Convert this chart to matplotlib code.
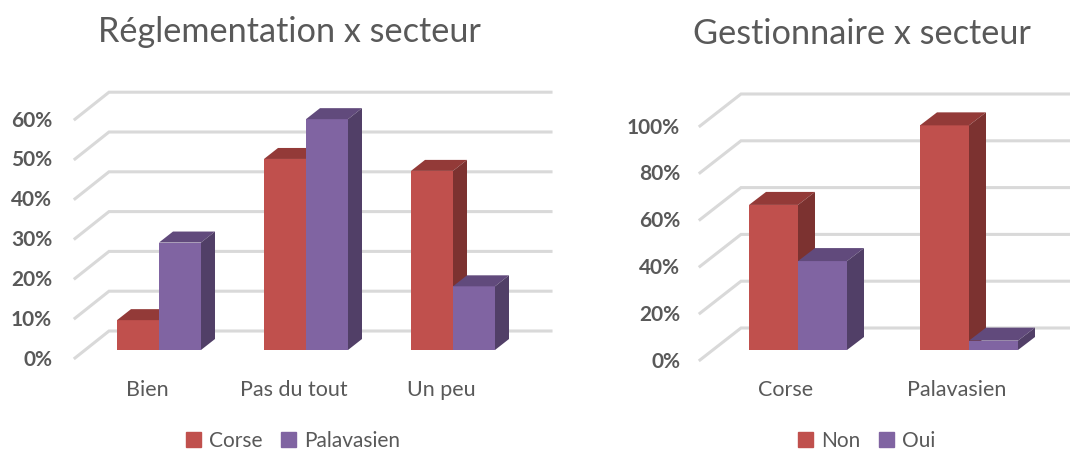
#!/usr/bin/env python3
"""Two pseudo-3D clustered column charts: reglementation and gestionnaire by sector."""

import matplotlib
matplotlib.use("Agg")
import matplotlib.pyplot as plt
from matplotlib.patches import Polygon, Patch

plt.rcParams["font.family"] = ["Lato", "DejaVu Sans"]

reg_title = "Réglementation x secteur"
reg_categories = ["Bien", "Pas du tout", "Un peu"]
reg_series = ["Corse", "Palavasien"]
reg_corse = [7.5, 48, 45]
reg_palavasien = [27, 58, 16]
reg_ticks = [0, 10, 20, 30, 40, 50, 60]

ges_title = "Gestionnaire x secteur"
ges_categories = ["Corse", "Palavasien"]
ges_series = ["Non", "Oui"]
ges_non = [62, 96]
ges_oui = [38, 4]
ges_ticks = [0, 20, 40, 60, 80, 100]

W, H = 1070, 455
RED = ("#C0504D", "#933A38", "#7C3230")
PURPLE = ("#8064A2", "#614A7C", "#513F67")
TEXT = "#595959"
GRID = "#D9D9D9"


def draw_column(ax, x, width, value, colors, dx, dy):
    ax.bar(x, value, width, align="edge", color=colors[0], zorder=3)
    x0, x1 = x, x + width
    ax.add_patch(Polygon([(x0, value), (x1, value), (x1 + dx, value + dy), (x0 + dx, value + dy)],
                         color=colors[1], lw=0, zorder=3))
    ax.add_patch(Polygon([(x1, 0), (x1 + dx, dy), (x1 + dx, value + dy), (x1, value)],
                         color=colors[2], lw=0, zorder=3))


def draw_chart(box, centre_px, step_px, pct_px, bar_px, depth, grid_px, categories, series,
               a, b, ticks, title, title_xy, tick_pad, legend_x):
    left, right = box
    base_px = 350
    top_px, bottom_px = 60, 410
    ax = plt.axes([left / W, 1 - bottom_px / H, (right - left) / W, (bottom_px - top_px) / H])
    ax.set_xlim((left - centre_px) / step_px, (right - centre_px) / step_px)
    ax.set_ylim((base_px - bottom_px) / pct_px, (base_px - top_px) / pct_px)
    ax.axis("off")

    to_x = lambda px: (px - centre_px) / step_px
    front_x, back_x, end_x, front_y, back_y = grid_px
    for t in ticks:
        yf = t + (base_px - front_y) / pct_px
        yb = t + (base_px - back_y) / pct_px
        ax.plot([to_x(front_x), to_x(back_x), to_x(end_x)], [yf, yb, yb],
                color=GRID, lw=2.2, zorder=1, solid_joinstyle="miter")
        ax.text(to_x(front_x - tick_pad), yf - 1.5 / pct_px, f"{t}%", ha="right", va="center",
                fontsize=15, color=TEXT, fontweight="bold")

    w = bar_px / step_px
    dx, dy = depth[0] / step_px, depth[1] / pct_px
    for i in range(len(categories)):
        # left series first so the right one overlaps its side face
        draw_column(ax, i - w, w, a[i], RED, dx, dy)
        draw_column(ax, i, w, b[i], PURPLE, dx, dy)
        ax.text(i - 12 / step_px, (base_px - 390) / pct_px, categories[i], ha="center", va="center",
                fontsize=15.5, color=TEXT)

    fig = ax.figure
    fig.text(title_xy[0] / W, 1 - title_xy[1] / H, title, ha="center", va="center",
             fontsize=24.7, color=TEXT)
    handles = [Patch(color=RED[0], label=series[0]), Patch(color=PURPLE[0], label=series[1])]
    # the reference crops the legend at the bottom edge; sit just inside the figure instead
    fig.legend(handles=handles, loc="center", bbox_to_anchor=(legend_x / W, 1 - 441 / H),
               ncol=2, frameon=False, fontsize=15, labelcolor=TEXT, handlelength=0.7,
               handleheight=0.7, handletextpad=0.4, columnspacing=0.9, borderpad=0, borderaxespad=0)


fig = plt.figure(figsize=(W / 100, H / 100), dpi=100, facecolor="white")

draw_chart((0, 560), 159, 147, 3.98, 42, (14, 11), (75, 109, 551, 358, 331),
           reg_categories, reg_series, reg_corse, reg_palavasien, reg_ticks,
           reg_title, (289, 32), 23, 293)
draw_chart((610, 1070), 798, 171, 2.34, 49, (17, 13), (700, 741, 1070, 360, 328),
           ges_categories, ges_series, ges_non, ges_oui, ges_ticks,
           ges_title, (862, 34), 20, 867)

fig.savefig("out.png", dpi=100)
print("Saved out.png")
